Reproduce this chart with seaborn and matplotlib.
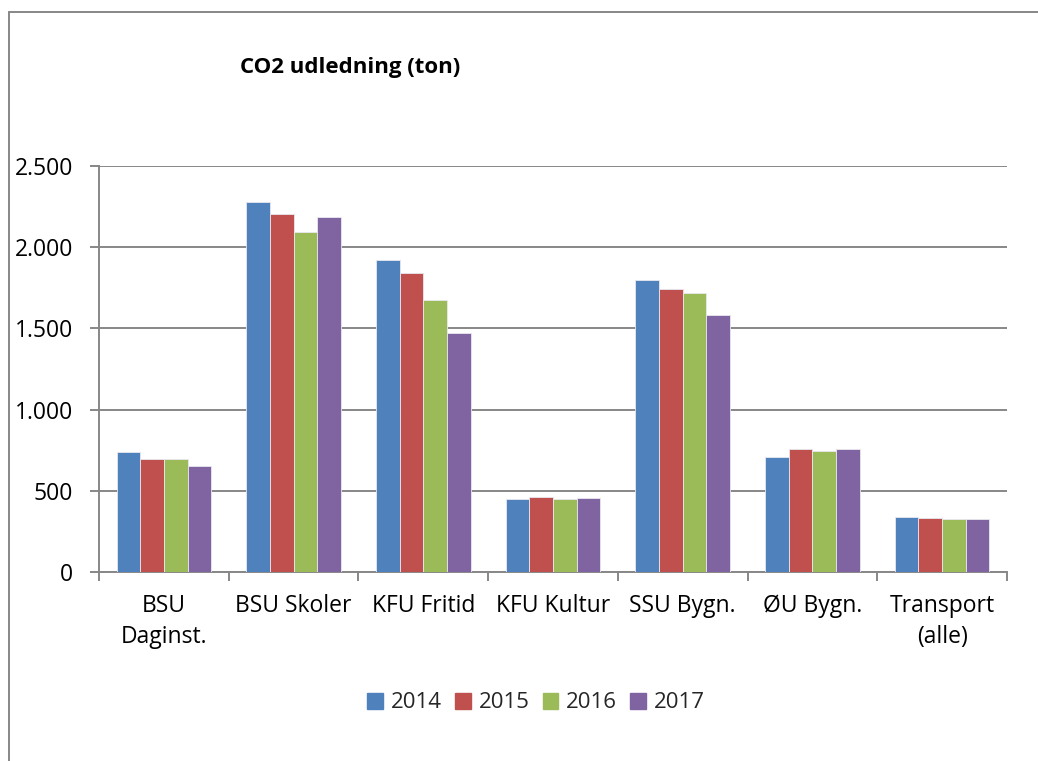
import matplotlib
matplotlib.use("Agg")
import matplotlib.pyplot as plt
from matplotlib.lines import Line2D
from matplotlib.ticker import FuncFormatter, FixedLocator
import seaborn as sns
import pandas as pd

categories = ["BSU\nDaginst.", "BSU Skoler", "KFU Fritid", "KFU Kultur",
              "SSU Bygn.", "ØU Bygn.", "Transport\n(alle)"]
years = ["2014", "2015", "2016", "2017"]
v2014 = [741, 2278, 1920, 451, 1796, 710, 340]
v2015 = [698, 2205, 1843, 463, 1741, 759, 333]
v2016 = [698, 2095, 1677, 451, 1720, 748, 328]
v2017 = [654, 2187, 1473, 453, 1585, 755, 325]
colors = ["#4F81BD", "#C0504D", "#9BBB59", "#8064A2"]

rows = []
for y, vals in zip(years, [v2014, v2015, v2016, v2017]):
    for c, v in zip(categories, vals):
        rows.append({"Kategori": c, "År": y, "Ton": v})
df = pd.DataFrame(rows)

sns.set_theme(style="white")
plt.rcParams['font.family'] = ['Open Sans', 'DejaVu Sans']

fig = plt.figure(figsize=(10.38, 7.61), dpi=100)
ax = fig.add_axes([99/1038, 1-572/761, 908/1038, 406/761])

sns.barplot(data=df, x="Kategori", y="Ton", hue="År", palette=colors, saturation=1,
            width=0.73, edgecolor="#E8E8F0", linewidth=0.6, ax=ax,
            order=categories, hue_order=years, legend=True, zorder=3)

ax.set_ylim(0, 2500)
ax.set_xlim(-0.5, len(categories) - 0.5)
ax.set_yticks([0, 500, 1000, 1500, 2000, 2500])
ax.yaxis.set_major_formatter(FuncFormatter(lambda v, p: f"{int(v):,}".replace(",", ".")))
ax.grid(axis="y", color="#878787", linewidth=1.4, zorder=0)
ax.set_axisbelow(True)
for s in ["top", "right"]:
    ax.spines[s].set_visible(False)
for s in ["left", "bottom"]:
    ax.spines[s].set_color("#878787")
    ax.spines[s].set_linewidth(1.4)
ax.set_xlabel("")
ax.set_ylabel("")
ax.tick_params(axis="y", which="major", left=True, length=6.5, width=1.4, color="#878787",
               labelsize=16.5, labelcolor="black", pad=12)
ax.tick_params(axis="x", which="major", bottom=False, length=0, labelsize=16.5,
               labelcolor="black", pad=16)
ax.xaxis.set_minor_locator(FixedLocator([i - 0.5 for i in range(len(categories) + 1)]))
ax.tick_params(axis="x", which="minor", bottom=True, length=6.5, width=1.4, color="#878787",
               direction="out")
for lbl in ax.get_xticklabels():
    lbl.set_linespacing(1.4)

ax.legend_.remove()
handles = [plt.Rectangle((0, 0), 1, 1, color=c) for c in colors]
fig.legend(handles, years, loc="center", bbox_to_anchor=(536/1038, 1-703/761),
           ncol=4, frameon=False, fontsize=16, handlelength=0.7, handleheight=0.7,
           handletextpad=0.35, columnspacing=0.6)

fig.text(240/1038, 1-67/761, "CO2 udledning (ton)", fontsize=16, fontweight="bold",
         ha="left", va="center", color="black")

fig.add_artist(Line2D([9/1038, 9/1038], [0, 1-12/761], transform=fig.transFigure,
                      color="#878787", linewidth=1.4))
fig.add_artist(Line2D([9/1038, 1], [1-12/761, 1-12/761], transform=fig.transFigure,
                      color="#878787", linewidth=1.4))

fig.savefig("out.png", dpi=100)
